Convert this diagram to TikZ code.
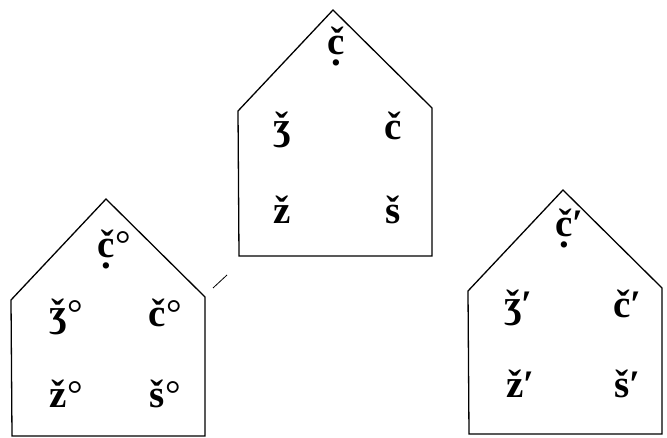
\documentclass[tikz,border=0pt]{standalone}
\usepackage{fontspec}
\setmainfont{Liberation Serif}
\tikzset{
  wall/.style={line width=1.3pt, line join=miter},
  ltr/.style={font=\fontsize{39}{41}\selectfont\bfseries, inner sep=0pt, anchor=base},
}
% house: apex x, apex y, bottom y
\newcommand{\house}[3]{\draw[wall] (#1-95,#2+101) -- (#1,#2) -- (#1+99,#2+98)
  -- (#1+99,#3) -- (#1-94,#3) -- cycle;}
\newcommand{\cdt}{\ooalign{č\cr\hidewidth\raisebox{-0.28em}{.}\hidewidth\cr}}
\newcommand{\dg}{\rlap{\kern1pt\mdseries°}}
\newcommand{\pr}{\rlap{′}}

\begin{document}
\begin{tikzpicture}[x=1pt,y=-1pt]
\useasboundingbox (0,0) rectangle (667,438);

\house{333}{10}{256}
\house{106}{199}{436}
\house{563}{190}{434}
\draw[line width=0.8pt] (213,288) -- (227,275);

% top house
\node[ltr] (tA) at (336,55) {\cdt};
\node[ltr] (tB) at (282,140) {ǯ};
\node[ltr] (tC) at (393,140) {č};
\node[ltr] (tD) at (282,224) {ž};
\node[ltr] (tE) at (393,224) {š};

% left house
\node[ltr] (lA) at (106,258) {\cdt\dg};
\node[ltr] (lB) at (58,327) {ǯ\dg};
\node[ltr] (lC) at (157,327) {č\dg};
\node[ltr] (lD) at (58,407) {ž\dg};
\node[ltr] (lE) at (157,407) {š\dg};

% right house
\node[ltr] (rA) at (564,237) {\cdt\pr};
\node[ltr] (rB) at (513,318) {ǯ\pr};
\node[ltr] (rC) at (622,318) {č\pr};
\node[ltr] (rD) at (515,397) {ž\pr};
\node[ltr] (rE) at (622,397) {š\pr};

\end{tikzpicture}
\end{document}
